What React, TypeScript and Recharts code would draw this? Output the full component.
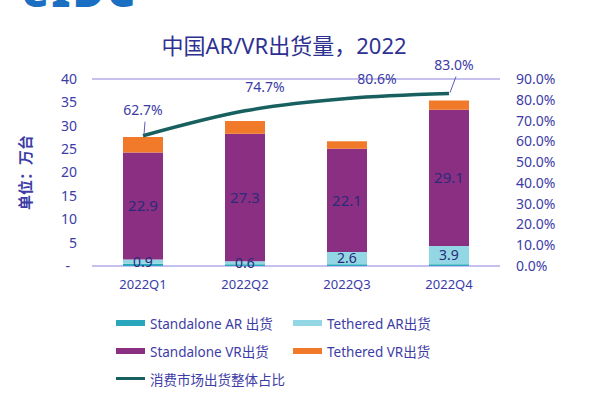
import { ComposedChart, Bar, Line, XAxis, YAxis, CartesianGrid, LabelList } from "recharts";

const quarters = ["2022Q1", "2022Q2", "2022Q3", "2022Q4"];
const standaloneAR = [0.5, 0.4, 0.4, 0.4];
const tetheredAR = [0.9, 0.6, 2.6, 3.9];
const standaloneVR = [22.9, 27.3, 22.1, 29.1];
const tetheredVR = [3.3, 2.7, 1.6, 2.0];
const consumerShare = [62.7, 74.7, 80.6, 83.0];
const leftTicks = [0, 5, 10, 15, 20, 25, 30, 35, 40];
const rightTicks = [0, 10, 20, 30, 40, 50, 60, 70, 80, 90];

const COLORS = {
  sAR: "#2aa6bd",
  tAR: "#93d6e4",
  sVR: "#8a2f82",
  tVR: "#f07a2a",
  line: "#17605f",
};
const TEXT = "#3d3ca6";
const FONT = "'Noto Sans', 'Noto Sans CJK SC', sans-serif";

const legendItems = [
  { name: "Standalone AR 出货", color: COLORS.sAR, kind: "bar" },
  { name: "Tethered AR出货", color: COLORS.tAR, kind: "bar" },
  { name: "Standalone VR出货", color: COLORS.sVR, kind: "bar" },
  { name: "Tethered VR出货", color: COLORS.tVR, kind: "bar" },
  { name: "消费市场出货整体占比", color: COLORS.line, kind: "line" },
];

const data = quarters.map((q, i) => ({
  q,
  sAR: standaloneAR[i],
  tAR: tetheredAR[i],
  sVR: standaloneVR[i],
  tVR: tetheredVR[i],
  share: consumerShare[i],
}));

// label offsets relative to the line point: [dx, dy, leader?]
const shareLabelPos: [number, number, boolean][] = [
  [0, -21, true],
  [20, -19, false],
  [30, -15, false],
  [5, -24, true],
];

function ShareLabel(props: any) {
  const { x, y, value, index } = props;
  const [dx, dy, leader] = shareLabelPos[index];
  return (
    <g>
      {leader && (
        <line x1={x + 1} y1={y - 1} x2={x + dx + 2} y2={y + dy + 7} stroke="#5b5bc0" strokeWidth={1} />
      )}
      <text x={x + dx} y={y + dy} textAnchor="middle" fill={TEXT} fontSize={14} fontFamily={FONT}>
        {`${value.toFixed(1)}%`}
      </text>
    </g>
  );
}

export default function App() {
  return (
    <div style={{ position: "fixed", left: 0, top: 0, width: 600, height: 400, background: "#fff", fontFamily: FONT, overflow: "hidden" }}>
      <div style={{ position: "absolute", left: 22, top: -40, fontSize: 44, fontWeight: 900, color: "#1b6fc2", letterSpacing: 2 }}>
        eIDC
      </div>
      <div style={{ position: "absolute", left: 0, width: 568, top: 28, textAlign: "center", fontSize: 22, color: "#2e3192" }}>
        中国AR/VR出货量，2022
      </div>
      <ComposedChart width={600} height={400} data={data} margin={{ top: 79, right: 0, left: 0, bottom: 104 }}>
        <CartesianGrid vertical={false} stroke="#c5c0ee" strokeWidth={1.8} />
        <XAxis
          dataKey="q"
          axisLine={false}
          tickLine={false}
          height={30}
          tick={{ fill: TEXT, fontSize: 13, fontFamily: FONT }}
          tickMargin={8}
        />
        <YAxis
          yAxisId="left"
          width={92}
          domain={[0, 40]}
          ticks={leftTicks}
          interval={0}
          axisLine={false}
          tickLine={false}
          tickSize={0}
          tickMargin={15}
          tick={{ fill: TEXT, fontSize: 14, fontFamily: FONT }}
          tickFormatter={(v: number) => (v === 0 ? "-\u2002" : String(v))}
          label={{
            value: "单位：万台",
            angle: -90,
            position: "insideLeft",
            offset: 26,
            style: { fill: TEXT, fontSize: 15, fontFamily: FONT, fontWeight: 600, textAnchor: "middle" },
          }}
        />
        <YAxis
          yAxisId="right"
          orientation="right"
          width={100}
          domain={[0, 90]}
          ticks={rightTicks}
          interval={0}
          axisLine={false}
          tickLine={false}
          tickSize={0}
          tickMargin={16}
          tick={{ fill: TEXT, fontSize: 14, fontFamily: FONT }}
          tickFormatter={(v: number) => `${v.toFixed(1)}%`}
        />
        <Bar yAxisId="left" dataKey="sAR" stackId="s" fill={COLORS.sAR} barSize={40} isAnimationActive={false} />
        <Bar yAxisId="left" dataKey="tAR" stackId="s" fill={COLORS.tAR} barSize={40} isAnimationActive={false}>
          <LabelList dataKey="tAR" position="center" fill="#2c2a7a" fontSize={14} fontFamily={FONT} />
        </Bar>
        <Bar yAxisId="left" dataKey="sVR" stackId="s" fill={COLORS.sVR} barSize={40} isAnimationActive={false}>
          <LabelList dataKey="sVR" position="center" fill="#2c2a7a" fontSize={15} fontFamily={FONT} />
        </Bar>
        <Bar yAxisId="left" dataKey="tVR" stackId="s" fill={COLORS.tVR} barSize={40} isAnimationActive={false} />
        <Line
          yAxisId="right"
          dataKey="share"
          type="monotone"
          stroke={COLORS.line}
          strokeWidth={3.5}
          dot={false}
          isAnimationActive={false}
        >
          <LabelList dataKey="share" content={ShareLabel} />
        </Line>
      </ComposedChart>
      <div
        style={{
          position: "absolute",
          left: 116,
          top: 312,
          display: "grid",
          gridTemplateColumns: "177px 200px",
          rowGap: 7,
          fontSize: 13.5,
          color: TEXT,
        }}
      >
        {legendItems.map((it) => (
          <div key={it.name} style={{ display: "flex", alignItems: "center", height: 21 }}>
            <span
              style={{
                display: "inline-block",
                width: 29,
                height: it.kind === "line" ? 3 : 6,
                background: it.color,
                marginRight: 5,
              }}
            />
            {it.name}
          </div>
        ))}
      </div>
    </div>
  );
}
